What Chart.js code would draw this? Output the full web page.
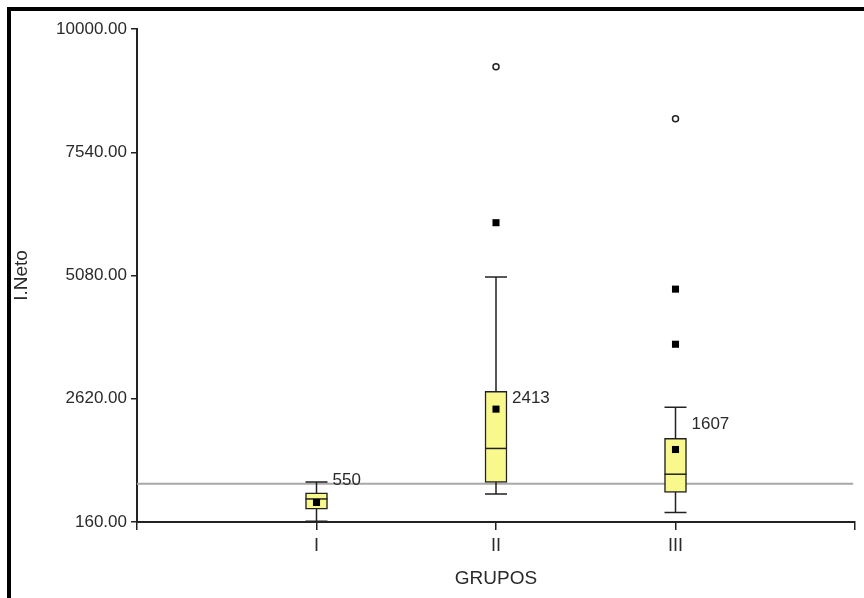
<!DOCTYPE html>
<html>
<head>
<meta charset="utf-8">
<script src="https://cdn.jsdelivr.net/npm/chart.js@4.4.1/dist/chart.umd.min.js"></script>
<style>
  body { margin: 0; background: #fff; }
  #wrap { position: relative; width: 864px; height: 598px; }
  #marco {
    position: absolute; left: 7px; top: 7px; right: 0; bottom: 0;
    border-left: 4px solid #000; border-top: 4px solid #000;
    pointer-events: none;
  }
</style>
</head>
<body>
<div id="wrap">
  <canvas id="grafico"></canvas>
  <div id="marco"></div>
</div>
<script>
const grupos = ["I", "II", "III"];
const q1 = [414, 948, 748];
const q3 = [740, 2768, 1828];
const medianas = [620, 1628, 1114];
const bigoteInf = [175, 720, 348];
const bigoteSup = [960, 5048, 2448];
const medias = [550, 2413, 1607];

// atipicos (cuadrado) y extremos (circulo)
const atipicosGrupo = [2, 3, 3];
const atipicosValor = [6134, 4808, 3708];
const extremosGrupo = [2, 3];
const extremosValor = [9248, 8208];

const lineaRef = 925;
const yTicks = [160, 2620, 5080, 7540, 10000];

const textColor = "#2a2a2a";
const lineColor = "#222";
const anchoCaja = 22;

// dibuja bigotes, medianas y etiquetas de la media
const boxPlugin = {
  id: "boxplot",
  beforeDatasetDraw(chart, args) {
    if (args.index !== 1) return;
    const xs = chart.scales.x, ys = chart.scales.y, ctx = chart.ctx;
    ctx.save();
    ctx.strokeStyle = lineColor;
    ctx.lineWidth = 1.5;
    grupos.forEach((g, i) => {
      const x = xs.getPixelForValue(i + 1);
      const yLo = ys.getPixelForValue(bigoteInf[i]);
      const yHi = ys.getPixelForValue(bigoteSup[i]);
      ctx.beginPath();
      ctx.moveTo(x, yLo); ctx.lineTo(x, yHi);
      ctx.moveTo(x - anchoCaja / 2, yLo); ctx.lineTo(x + anchoCaja / 2, yLo);
      ctx.moveTo(x - anchoCaja / 2, yHi); ctx.lineTo(x + anchoCaja / 2, yHi);
      ctx.stroke();
    });
    ctx.restore();
  },
  afterDatasetDraw(chart, args) {
    if (args.index !== 1) return;
    const xs = chart.scales.x, ys = chart.scales.y, ctx = chart.ctx;
    ctx.save();
    ctx.strokeStyle = lineColor;
    ctx.lineWidth = 1.5;
    grupos.forEach((g, i) => {
      const x = xs.getPixelForValue(i + 1);
      const y = ys.getPixelForValue(medianas[i]);
      ctx.beginPath();
      ctx.moveTo(x - anchoCaja / 2, y); ctx.lineTo(x + anchoCaja / 2, y);
      ctx.stroke();
    });
    ctx.restore();
  },
  afterDatasetsDraw(chart) {
    const xs = chart.scales.x, ys = chart.scales.y, ctx = chart.ctx;
    const dy = [-22, -11, -25];
    ctx.save();
    ctx.fillStyle = textColor;
    ctx.font = "17px 'Liberation Sans', Arial, sans-serif";
    ctx.textBaseline = "middle";
    medias.forEach((m, i) => {
      const x = xs.getPixelForValue(i + 1) + 16;
      const y = ys.getPixelForValue(m) + dy[i];
      ctx.fillText(String(m), x, y);
    });
    ctx.restore();
  }
};

const data = {
  datasets: [
    {
      type: "line",
      data: [{ x: 0, y: lineaRef }, { x: 3.99, y: lineaRef }],
      borderColor: "#a8a8a8",
      borderWidth: 2,
      pointRadius: 0,
      order: 10,
    },
    {
      type: "bar",
      data: grupos.map((g, i) => ({ x: i + 1, y: [q1[i], q3[i]] })),
      backgroundColor: "#f8f88c",
      borderColor: lineColor,
      borderWidth: 1.5,
      borderSkipped: false,
      barThickness: anchoCaja,
      order: 5,
    },
    {
      type: "scatter",
      data: medias.map((m, i) => ({ x: i + 1, y: m })),
      pointStyle: "rect",
      pointRadius: 5,
      backgroundColor: "#000",
      borderWidth: 0,
      order: 1,
    },
    {
      type: "scatter",
      data: atipicosValor.map((v, i) => ({ x: atipicosGrupo[i], y: v })),
      pointStyle: "rect",
      pointRadius: 5,
      backgroundColor: "#000",
      borderWidth: 0,
      order: 1,
    },
    {
      type: "scatter",
      data: extremosValor.map((v, i) => ({ x: extremosGrupo[i], y: v })),
      pointStyle: "circle",
      pointRadius: 3,
      backgroundColor: "#fff",
      borderColor: "#222",
      borderWidth: 1.5,
      order: 1,
    },
  ],
};

const config = {
  data: data,
  options: {
    responsive: true,
    maintainAspectRatio: false,
    animation: false,
    layout: { padding: { top: 29, right: 9, left: 0, bottom: 0 } },
    plugins: {
      legend: { display: false },
      tooltip: { enabled: false },
    },
    scales: {
      x: {
        type: "linear",
        min: 0,
        max: 4,
        offset: false,
        afterBuildTicks: (s) => { s.ticks = [0, 1, 2, 3, 4].map((v) => ({ value: v })); },
        afterFit: (s) => { s.height = 76; },
        ticks: {
          callback: (v) => ["", "I", "II", "III", ""][v],
          color: textColor,
          font: { size: 18, family: "'Liberation Sans', Arial" },
          padding: 5,
          maxRotation: 0,
          autoSkip: false,
        },
        grid: { offset: false, drawOnChartArea: false, drawTicks: true, tickLength: 8, color: lineColor, lineWidth: 1.5 },
        border: { display: true, color: lineColor, width: 2 },
        title: {
          display: true,
          text: "GRUPOS",
          color: textColor,
          font: { size: 19, family: "'Liberation Sans', Arial" },
          padding: { top: 0, bottom: 8 },
        },
      },
      y: {
        min: 160,
        max: 10000,
        afterBuildTicks: (s) => { s.ticks = yTicks.map((v) => ({ value: v })); },
        afterFit: (s) => { s.width = 137; },
        ticks: {
          callback: (v) => v.toFixed(2),
          color: textColor,
          font: { size: 17, family: "'Liberation Sans', Arial" },
          padding: 4,
        },
        grid: { drawOnChartArea: false, drawTicks: true, tickLength: 6, color: lineColor, lineWidth: 1.5 },
        border: { display: true, color: lineColor, width: 2 },
        title: {
          display: true,
          text: "I.Neto",
          color: textColor,
          font: { size: 19, family: "'Liberation Sans', Arial" },
          padding: { top: 10, bottom: 0 },
        },
      },
    },
  },
  plugins: [boxPlugin],
};

let myChart = new Chart(document.getElementById("grafico"), config);
</script>
</body>
</html>
